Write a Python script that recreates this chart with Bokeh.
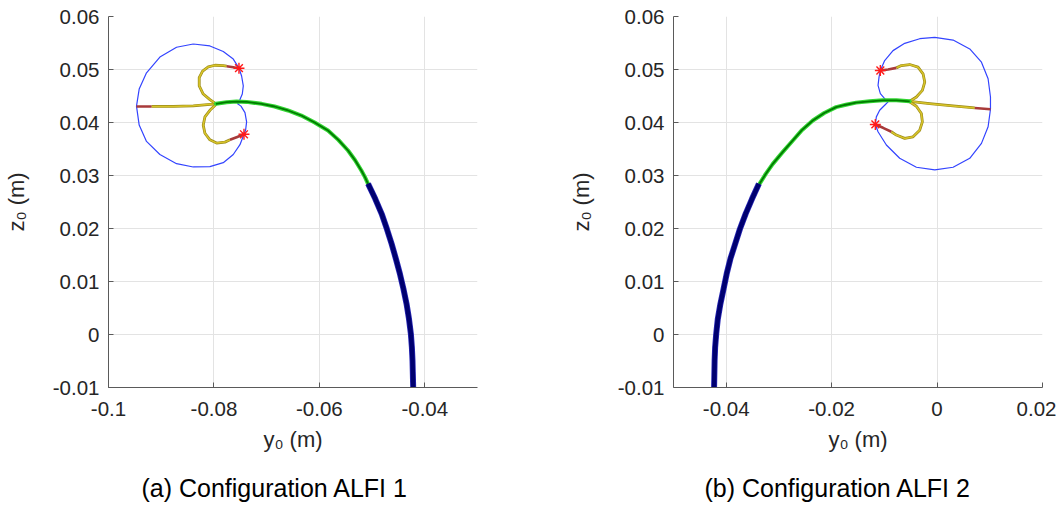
from bokeh.plotting import figure
from bokeh.layouts import row
from bokeh.models import Range1d, FixedTicker, Title
from bokeh.embed import file_html
from bokeh.resources import INLINE

# ---------------- data: configuration ALFI 1 ----------------
a_blue_y = [-0.08392, -0.08076, -0.07823, -0.07633, -0.07525, -0.07475, -0.07443, -0.07462, -0.07506, -0.07551,
            -0.07487, -0.07411, -0.07380, -0.07399, -0.07430, -0.07506, -0.07633, -0.07823, -0.08076, -0.08392,
            -0.08709, -0.09025, -0.09279, -0.09418, -0.09469, -0.09418, -0.09279, -0.09025, -0.08709, -0.08392]
a_blue_z = [0.05481, 0.05444, 0.05339, 0.05197, 0.05025, 0.04877, 0.04691, 0.04537, 0.04432, 0.04352,
            0.04309, 0.04186, 0.04013, 0.03859, 0.03778, 0.03581, 0.03396, 0.03242, 0.03168, 0.03161,
            0.03223, 0.03396, 0.03643, 0.03951, 0.04309, 0.04630, 0.04938, 0.05234, 0.05420, 0.05481]
a_tail_y = [-0.07962, -0.08392, -0.08772, -0.09184]
a_tail_z = [0.04352, 0.04315, 0.04303, 0.04303]
a_tail_red_y = [-0.09184, -0.09469]
a_tail_red_z = [0.04303, 0.04303]
a_up_y = [-0.07962, -0.08076, -0.08203, -0.08279, -0.08279, -0.08215, -0.08108, -0.07981, -0.07823, -0.07759]
a_up_z = [0.04352, 0.04432, 0.04537, 0.04691, 0.04846, 0.04969, 0.05049, 0.05080, 0.05074, 0.05062]
a_up_red_y = [-0.07759, -0.07633, -0.07525]
a_up_red_z = [0.05062, 0.05043, 0.05025]
a_lo_y = [-0.07962, -0.08076, -0.08171, -0.08203, -0.08171, -0.08076, -0.07949, -0.07791, -0.07696]
a_lo_z = [0.04340, 0.04229, 0.04105, 0.03951, 0.03797, 0.03673, 0.03612, 0.03630, 0.03673]
a_lo_red_y = [-0.07696, -0.07570, -0.07430]
a_lo_red_z = [0.03673, 0.03723, 0.03778]
a_green_y = [-0.07962, -0.07759, -0.07570, -0.07380, -0.07095, -0.06848, -0.06595, -0.06342, -0.06089, -0.05836,
             -0.05640, -0.05456, -0.05322, -0.05203, -0.05135, -0.05076]
a_green_z = [0.04352, 0.04383, 0.04395, 0.04389, 0.04352, 0.04302, 0.04227, 0.04132, 0.04000, 0.03849,
             0.03672, 0.03472, 0.03287, 0.03094, 0.02970, 0.02843]
a_navy_y = [-0.05076, -0.04940, -0.04818, -0.04720, -0.04629, -0.04548, -0.04472, -0.04405, -0.04346, -0.04300,
            -0.04264, -0.04245, -0.04233, -0.04220]
a_navy_z = [0.02843, 0.02560, 0.02277, 0.01994, 0.01711, 0.01428, 0.01145, 0.00862, 0.00579, 0.00296,
            0.00013, -0.00240, -0.00491, -0.01000]
a_star_y = [-0.07525, -0.07430]
a_star_z = [0.05025, 0.03778]

# ---------------- data: configuration ALFI 2 ----------------
b_blue_y = [-0.00044, 0.00304, 0.00620, 0.00842, 0.00968, 0.01013, 0.01013, 0.00968, 0.00842, 0.00620,
            0.00304, -0.00044, -0.00392, -0.00709, -0.00962, -0.01120, -0.01171, -0.01152, -0.01089, -0.00994,
            -0.00930, -0.00994, -0.01076, -0.01120, -0.01101, -0.01076, -0.00994, -0.00836, -0.00614, -0.00329,
            -0.00044]
b_blue_z = [0.05606, 0.05556, 0.05388, 0.05138, 0.04825, 0.04481, 0.04250, 0.03919, 0.03606, 0.03325,
            0.03156, 0.03106, 0.03156, 0.03325, 0.03575, 0.03825, 0.03963, 0.04106, 0.04231, 0.04325,
            0.04388, 0.04450, 0.04544, 0.04700, 0.04856, 0.04981, 0.05169, 0.05356, 0.05494, 0.05581,
            0.05606]
b_tail_y = [-0.00519, -0.00139, 0.00304, 0.00715]
b_tail_z = [0.04400, 0.04356, 0.04313, 0.04275]
b_tail_red_y = [0.00715, 0.01013]
b_tail_red_z = [0.04275, 0.04250]
b_up_y = [-0.00519, -0.00392, -0.00279, -0.00234, -0.00266, -0.00361, -0.00519, -0.00677, -0.00772]
b_up_z = [0.04400, 0.04481, 0.04606, 0.04763, 0.04919, 0.05044, 0.05094, 0.05075, 0.05031]
b_up_red_y = [-0.00772, -0.00930, -0.01076]
b_up_red_z = [0.05031, 0.05000, 0.04981]
b_lo_y = [-0.00519, -0.00392, -0.00298, -0.00279, -0.00329, -0.00456, -0.00614, -0.00772, -0.00867]
b_lo_z = [0.04388, 0.04306, 0.04169, 0.04013, 0.03856, 0.03731, 0.03700, 0.03763, 0.03825]
b_lo_red_y = [-0.00867, -0.01025, -0.01171]
b_lo_red_z = [0.03825, 0.03900, 0.03963]
b_green_y = [-0.00519, -0.00772, -0.01025, -0.01279, -0.01536, -0.01730, -0.01915, -0.02140, -0.02357, -0.02560,
             -0.02736, -0.02930, -0.03116, -0.03250, -0.03368]
b_green_z = [0.04400, 0.04419, 0.04419, 0.04400, 0.04375, 0.04335, 0.04290, 0.04180, 0.04038, 0.03860,
             0.03661, 0.03440, 0.03220, 0.03030, 0.02843]
b_navy_y = [-0.03380, -0.03510, -0.03630, -0.03740, -0.03830, -0.03920, -0.03990, -0.04050, -0.04110, -0.04160,
            -0.04190, -0.04210, -0.04220, -0.04230]
b_navy_z = [0.02843, 0.02560, 0.02280, 0.01990, 0.01710, 0.01430, 0.01150, 0.00860, 0.00580, 0.00290,
            0.00010, -0.00240, -0.00490, -0.01000]
b_star_y = [-0.01076, -0.01171]
b_star_z = [0.04981, 0.03963]

# ---------------- axes ----------------
z_ticks = [-0.01, 0.0, 0.01, 0.02, 0.03, 0.04, 0.05, 0.06]
z_tick_labels = ["-0.01", "0", "0.01", "0.02", "0.03", "0.04", "0.05", "0.06"]
a_y_ticks = [-0.1, -0.08, -0.06, -0.04]
a_y_tick_labels = ["-0.1", "-0.08", "-0.06", "-0.04"]
b_y_ticks = [-0.04, -0.02, 0.0, 0.02]
b_y_tick_labels = ["-0.04", "-0.02", "0", "0.02"]
a_range = (-0.1, -0.03)
b_range = (-0.05, 0.02)
z_range = (-0.01, 0.06)
captions = ["(a) Configuration ALFI 1", "(b) Configuration ALFI 2"]
x_label = "y\u2080 (m)"
y_label = "z\u2080 (m)"

FONT = "Liberation Sans"


def panel(d, xr, xt, xtl, caption, cap_offset, left_border, right_border):
    p = figure(frame_width=369, frame_height=371, output_backend="svg", toolbar_location=None,
               x_range=Range1d(*xr), y_range=Range1d(*z_range),
               min_border_left=left_border, min_border_right=right_border,
               min_border_top=16, min_border_bottom=118, outline_line_color=None,
               background_fill_color="white", border_fill_color="white")
    for ax, ticks, labels, lab in ((p.xaxis[0], xt, xtl, x_label), (p.yaxis[0], z_ticks, z_tick_labels, y_label)):
        ax.ticker = FixedTicker(ticks=ticks)
        ax.major_label_overrides = {t: l for t, l in zip(ticks, labels)}
        ax.minor_tick_line_color = None
        ax.major_tick_in = 5
        ax.major_tick_out = 0
        ax.axis_line_color = "#5a5a5a"
        ax.major_tick_line_color = "#5a5a5a"
        ax.major_label_text_font = FONT
        ax.major_label_text_font_size = "20.5px"
        ax.major_label_text_color = "#262626"
        ax.axis_label = lab
        ax.axis_label_text_font = FONT
        ax.axis_label_text_font_size = "22px"
        ax.axis_label_text_font_style = "normal"
        ax.axis_label_text_color = "#262626"
    p.xaxis.major_label_standoff = 14
    p.xaxis.axis_label_standoff = 8
    p.yaxis.major_label_standoff = 9
    p.yaxis.axis_label_standoff = 21
    p.grid.grid_line_color = "#e3e3e3"
    p.grid.grid_line_width = 1

    # blue circle
    p.line(d["blue"][0], d["blue"][1], line_color="#3344ff", line_width=1.2, line_join="round")
    # yellow tentacles with dark edge
    for k in ("tail", "up", "lo"):
        xs, ys = d[k]
        p.line(xs, ys, line_color="#9a8a18", line_width=2.8, line_join="round")
        p.line(xs, ys, line_color="#d8c42a", line_width=1.5, line_join="round")
    for k in ("tail_red", "up_red", "lo_red"):
        xs, ys = d[k]
        p.line(xs, ys, line_color="#a83a3a", line_width=2.6, line_join="round")
    # green and navy
    gx, gy = d["green"]
    p.line(gx, gy, line_color="#33d633", line_width=4, line_cap="round", line_join="round")
    p.line(gx, gy, line_color="#007a00", line_width=1.8, line_join="round")
    nx, ny = d["navy"]
    p.line(nx, ny, line_color="#2a2ab8", line_width=6, line_join="round")
    p.line(nx, ny, line_color="#000070", line_width=4.5, line_join="round")
    sx, sy = d["star"]
    p.scatter(sx, sy, marker="asterisk", size=11, line_color="#ff1a1a", line_width=1.4)

    t = Title(text=caption, align="left", offset=cap_offset, text_font=FONT, text_font_size="25px",
              text_font_style="normal", text_color="black", standoff=35)
    p.add_layout(t, "below")
    return p


data_a = dict(blue=(a_blue_y, a_blue_z), tail=(a_tail_y, a_tail_z), up=(a_up_y, a_up_z), lo=(a_lo_y, a_lo_z),
              tail_red=(a_tail_red_y, a_tail_red_z), up_red=(a_up_red_y, a_up_red_z), lo_red=(a_lo_red_y, a_lo_red_z),
              green=(a_green_y, a_green_z), navy=(a_navy_y, a_navy_z), star=(a_star_y, a_star_z))
data_b = dict(blue=(b_blue_y, b_blue_z), tail=(b_tail_y, b_tail_z), up=(b_up_y, b_up_z), lo=(b_lo_y, b_lo_z),
              tail_red=(b_tail_red_y, b_tail_red_z), up_red=(b_up_red_y, b_up_red_z), lo_red=(b_lo_red_y, b_lo_red_z),
              green=(b_green_y, b_green_z), navy=(b_navy_y, b_navy_z), star=(b_star_y, b_star_z))

p1 = panel(data_a, a_range, a_y_ticks, a_y_tick_labels, captions[0], 33, 107, 60)
p2 = panel(data_b, b_range, b_y_ticks, b_y_tick_labels, captions[1], 31, 136, 14)

layout = row(p1, p2)
open("out.html", "w").write(file_html(layout, INLINE))
